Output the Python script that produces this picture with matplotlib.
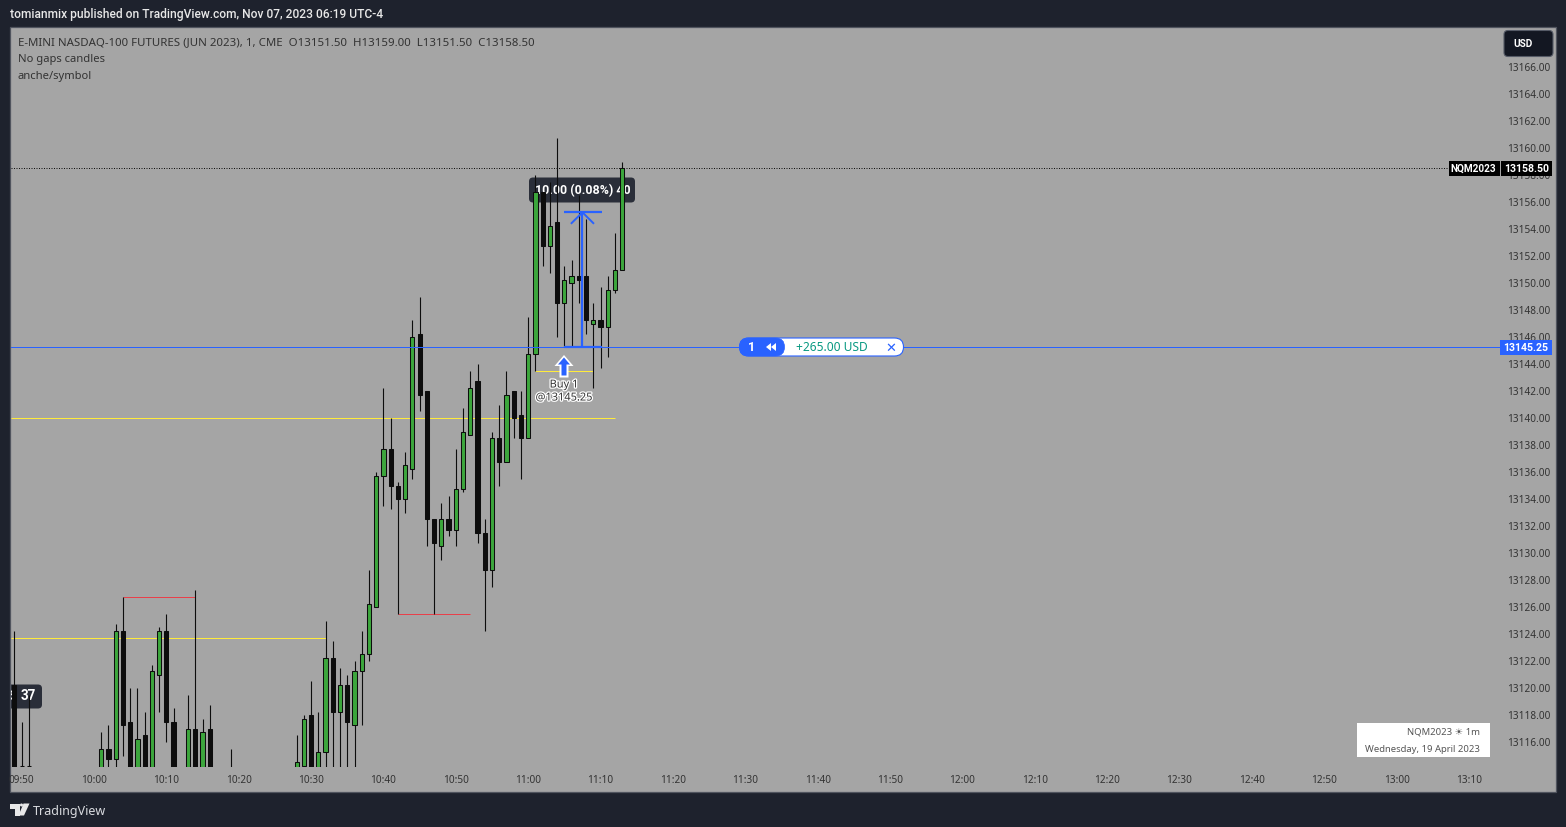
import matplotlib
matplotlib.use("Agg")
import matplotlib.pyplot as plt
import matplotlib.patheffects as pe
from matplotlib.patches import FancyBboxPatch, Polygon, Rectangle
from matplotlib.transforms import Affine2D

W, H = 1566, 828

# minutes counted from 10:00
minutes = [-11, -10, -9, 1, 2, 3, 4, 5, 6, 7, 8, 9, 10, 11, 13, 14, 15, 16, 19,
           28, 29, 30, 31, 32, 33, 34, 35, 36, 37, 38, 39, 40, 41, 42, 43, 44, 45,
           46, 47, 48, 49, 50, 51, 52, 53, 54, 55, 56, 57, 58, 59, 60, 61, 62, 63,
           64, 65, 66, 67, 68, 69, 70, 71, 72, 73]
opens = [13120.25, 13114.25, 13114.25, 13113.0, 13115.5, 13114.75, 13124.25, 13117.5, 13113.0, 13116.5,
         13113.0, 13121.0, 13124.25, 13117.5, 13113.0, 13117.0, 13113.0, 13117.0, 13113.0,
         13113.0, 13114.25, 13118.0, 13113.0, 13115.25, 13122.25, 13118.25, 13120.25, 13117.25, 13121.25, 13122.5,
         13126.0, 13135.75, 13137.75, 13135.0, 13134.0, 13136.25, 13146.25, 13142.0, 13132.5, 13130.5,
         13132.5, 13131.75, 13134.75, 13138.75, 13142.75, 13131.5, 13128.75, 13138.5, 13136.75, 13142.0,
         13140.25, 13138.5, 13144.75, 13156.75, 13152.75, 13154.5, 13148.5, 13150.0, 13150.5, 13150.5,
         13147.0, 13147.25, 13146.75, 13149.5, 13151.0]
highs = [13124.25, 13117.5, 13119.5, 13116.75, 13117.25, 13124.75, 13126.75, 13120.0, 13120.0, 13118.25,
         13121.75, 13124.5, 13125.5, 13118.5, 13119.5, 13127.25, 13117.75, 13118.75, 13115.5,
         13116.5, 13118.0, 13120.5, 13118.25, 13125.0, 13123.5, 13121.5, 13121.0, 13122.0, 13124.25, 13128.75,
         13136.0, 13142.25, 13140.0, 13135.25, 13137.5, 13147.25, 13149.0, 13142.0, 13132.5, 13133.75,
         13134.25, 13137.75, 13140.75, 13143.5, 13144.0, 13132.5, 13139.0, 13141.0, 13143.5, 13142.0,
         13142.0, 13147.5, 13158.0, 13156.75, 13157.5, 13160.75, 13151.25, 13151.75, 13156.5, 13154.75,
         13148.5, 13149.75, 13150.5, 13153.75, 13159.0]
lows = [13108.0, 13112.0, 13112.0, 13112.0, 13112.0, 13112.0, 13115.0, 13112.0, 13112.0, 13112.0,
        13112.0, 13118.25, 13116.0, 13112.0, 13112.0, 13112.0, 13112.0, 13112.0, 13112.0,
        13112.0, 13114.25, 13112.0, 13112.0, 13112.0, 13112.0, 13112.0, 13112.0, 13112.0, 13117.25, 13122.0,
        13126.0, 13133.5, 13133.25, 13125.5, 13133.0, 13135.5, 13140.5, 13130.5, 13125.5, 13129.5,
        13131.25, 13130.5, 13134.5, 13138.75, 13130.75, 13124.25, 13127.5, 13135.0, 13136.75, 13138.5,
        13135.5, 13138.5, 13143.5, 13151.25, 13150.75, 13146.0, 13145.25, 13145.25, 13148.5, 13146.25,
        13142.25, 13143.75, 13144.5, 13149.25, 13151.0]
closes = [13110.0, 13114.25, 13114.25, 13115.5, 13114.75, 13124.25, 13117.25, 13112.0, 13116.25, 13112.0,
          13121.25, 13124.25, 13117.5, 13112.0, 13117.0, 13112.0, 13116.75, 13112.0, 13113.0,
          13114.5, 13117.75, 13112.0, 13115.25, 13122.25, 13118.25, 13120.25, 13117.5, 13121.25, 13122.5, 13126.25,
          13135.75, 13137.75, 13135.0, 13134.0, 13136.5, 13146.0, 13141.75, 13132.5, 13130.75, 13132.5,
          13131.75, 13134.75, 13139.0, 13142.25, 13131.5, 13128.75, 13138.5, 13136.75, 13141.75, 13140.0,
          13138.5, 13144.75, 13156.75, 13152.75, 13154.25, 13148.5, 13150.25, 13150.5, 13150.25, 13147.25,
          13147.25, 13146.75, 13149.5, 13151.0, 13158.5]

price_ticks = list(range(13116, 13167, 2))
time_ticks = list(range(-10, 191, 10))
time_labels = ["09:50", "10:00", "10:10", "10:20", "10:30", "10:40", "10:50", "11:00", "11:10",
               "11:20", "11:30", "11:40", "11:50", "12:00", "12:10", "12:20", "12:30", "12:40",
               "12:50", "13:00", "13:10"]

last_price = 13158.5
entry_price = 13145.25
target_price = 13155.25
yellow_levels = [(13140.0, -11.5, 72), (13123.75, -11.5, 32), (13143.5, 61, 69)]
red_levels = [(13126.75, 4, 14), (13125.5, 42, 52)]

DARK = "#1e222d"
PANEL = "#a5a5a5"
GREEN = "#3ca63c"
BLUE = "#2962ff"
TEXT = "#333333"
FONT = ["Noto Sans", "DejaVu Sans"]
BOLD = ["Roboto", "DejaVu Sans"]

plt.rcParams["font.family"] = FONT

fig = plt.figure(figsize=(W / 100, H / 100), dpi=100, facecolor=DARK)
px = Affine2D().scale(1, -1).translate(0, H - 0.5)


def fs(pixels):
    return pixels * 0.72


# panel behind everything
fig.add_artist(Rectangle((9.5, 27), 1546, 765.5, transform=px, facecolor=PANEL,
                         edgecolor="#50545e", linewidth=0.9, zorder=-5))

ax = fig.add_axes([11 / W, 1 - 768.2 / H, 1489 / W, 739 / H], facecolor="none")
ax.set_xlim(-11.47, 194.3)
ax.set_ylim(13114.148, 13168.889)
for spine in ax.spines.values():
    spine.set_visible(False)
ax.yaxis.tick_right()
ax.set_yticks(price_ticks)
ax.set_yticklabels([f"{p:.2f}" for p in price_ticks])
ax.set_xticks(time_ticks)
ax.set_xticklabels(time_labels)
ax.tick_params(axis="y", length=0, pad=5.0, labelsize=fs(10), colors=TEXT)
ax.tick_params(axis="x", length=0, pad=5.0, labelsize=fs(10), colors=TEXT)

# tick labels sit a bit higher than the gridless price rows
up = Affine2D().translate(0, 1.5)
for label in ax.get_yticklabels():
    label.set_transform(label.get_transform() + up)

# level lines
for price, start, end in yellow_levels:
    ax.hlines(price, start, end, color="#ffeb3b", linewidth=0.72, zorder=2).set_snap(True)
for price, start, end in red_levels:
    ax.hlines(price, start, end, color="#e8404a", linewidth=0.72, zorder=2).set_snap(True)

# tooltips sit under the candles, clipped by the axes
ax.add_patch(FancyBboxPatch((3, 685), 39, 24, boxstyle="round,pad=0,rounding_size=4", transform=px,
                            facecolor="#2a2e39", edgecolor="none", zorder=1))
ax.text(12, 696.5, "$", transform=px, family=BOLD, color="white", fontsize=fs(12), fontweight="bold",
        ha="center", va="center", zorder=1.5, clip_on=True)
ax.text(28, 696, "37", transform=px, family=BOLD, color="white", fontsize=fs(13.5), fontweight="bold",
        ha="center", va="center", zorder=1.5)
ax.add_patch(FancyBboxPatch((529, 178), 106, 25, boxstyle="round,pad=0,rounding_size=4", transform=px,
                            facecolor="#2a2e39", edgecolor="none", zorder=1))
ax.text(583, 190, "10.00 (0.08%) 40", transform=px, family=BOLD, color="white", fontsize=fs(12.4), fontweight="bold",
        ha="center", va="center", zorder=1.5)

# candles
for m, o, h, l, c in zip(minutes, opens, highs, lows, closes):
    ax.vlines(m, l, h, color="#0d0d0d", linewidth=0.8, zorder=3).set_snap(True)
    ax.bar(m, abs(c - o), bottom=min(o, c), width=0.58, color=GREEN if c >= o else "#0d0d0d",
           edgecolor="#0d0d0d", linewidth=0.75, zorder=4)

# last price and entry lines
ax.axhline(last_price, color="#111111", linewidth=0.72, linestyle=(0, (1, 1.5)), zorder=5)
ax.axhline(entry_price, color=BLUE, linewidth=0.72, zorder=5)

# measure tool
ax.vlines(67.5, entry_price, target_price, color=BLUE, linewidth=1.6, zorder=6).set_snap(True)
ax.hlines([entry_price, target_price], 65, 70.2, color=BLUE, linewidth=1.6, zorder=6).set_snap(True)
ax.plot([66, 67.5, 69], [target_price - 0.8, target_price, target_price - 0.8], color=BLUE,
        linewidth=1.4, zorder=6)

# buy marker
ax.add_patch(Polygon([(564, 355.5), (573.5, 366.5), (568.5, 366.5), (568.5, 378), (559.5, 378), (559.5, 366.5), (554.5, 366.5)],
                     transform=px, facecolor="white", edgecolor="none", zorder=7))
ax.add_patch(Polygon([(564, 358), (570, 365), (566.5, 365), (566.5, 376), (561.5, 376), (561.5, 365), (558, 365)],
                     transform=px, facecolor=BLUE, edgecolor="none", zorder=8))
halo = [pe.withStroke(linewidth=1.8, foreground="white")]
ax.text(564, 385.5, "Buy 1", transform=px, color=TEXT, fontsize=fs(11), ha="center", va="center",
        path_effects=halo, zorder=8)
ax.text(564, 398.5, "@13145.25", transform=px, color=TEXT, fontsize=fs(11), ha="center", va="center",
        path_effects=halo, zorder=8)

# legend top left
fig.text(18, 42, "E-MINI NASDAQ-100 FUTURES (JUN 2023), 1, CME  O13151.50  H13159.00  L13151.50  C13158.50",
         transform=px, color=TEXT, fontsize=fs(11.45), va="center", zorder=9)
fig.text(18, 59.5, "No gaps candles", transform=px, color=TEXT, fontsize=fs(11.2), va="center", zorder=9)
fig.text(18, 76.5, "anche/symbol", transform=px, color=TEXT, fontsize=fs(11.2), va="center", zorder=9)

# header and footer
fig.text(10, 14.5, "tomianmix published on TradingView.com, Nov 07, 2023 06:19 UTC-4", transform=px,
         family=BOLD, color="#e8e8e8", fontsize=fs(12), fontweight="medium", va="center")
fig.text(33, 811, "TradingView", transform=px, color="#d8dade", fontsize=fs(12.5), va="center")
logo = "#e8e8e8"
fig.add_artist(Polygon([(10, 804), (20, 804), (20, 816), (15, 816), (15, 809), (10, 809)], transform=px,
                       facecolor=logo, edgecolor="none"))
fig.add_artist(Polygon([(23.5, 804), (29.5, 804), (24, 816), (18.5, 816)], transform=px,
                       facecolor=logo, edgecolor="none"))
fig.add_artist(FancyBboxPatch((20, 804), 3, 3, boxstyle="round,pad=0,rounding_size=1.4", transform=px,
                              facecolor=logo, edgecolor="none"))

# USD button
fig.add_artist(FancyBboxPatch((1504, 31), 49, 26, boxstyle="round,pad=0,rounding_size=4", transform=px,
                              facecolor="#131722", edgecolor="#555a66", linewidth=0.8, zorder=9))
fig.text(1513, 44, "USD", transform=px, family=BOLD, color="white", fontsize=fs(10), fontweight="bold", va="center", zorder=10)

# price tags on the right
fig.add_artist(Rectangle((1449, 161), 51, 15, transform=px, facecolor="black", edgecolor="none", zorder=9))
fig.text(1473.5, 168.5, "NQM2023", transform=px, family=BOLD, color="white", fontsize=fs(10), fontweight="bold",
         ha="center", va="center", zorder=10)
fig.add_artist(Rectangle((1501, 161), 51, 15, transform=px, facecolor="black", edgecolor="none", zorder=9))
fig.text(1527, 168.5, f"{last_price:.2f}", transform=px, family=BOLD, color="white", fontsize=fs(10.5), fontweight="bold",
         ha="center", va="center", zorder=10)
fig.add_artist(Rectangle((1500, 340), 52, 15, transform=px, facecolor=BLUE, edgecolor="none", zorder=9))
fig.text(1526, 347.5, f"{entry_price:.2f}", transform=px, family=BOLD, color="white", fontsize=fs(10.5), fontweight="bold",
         ha="center", va="center", zorder=10)

# position pill
fig.add_artist(FancyBboxPatch((739.5, 338.5), 164, 18, boxstyle="round,pad=0,rounding_size=9", transform=px,
                              facecolor="white", edgecolor=BLUE, linewidth=0.8, zorder=9))
fig.add_artist(FancyBboxPatch((739.5, 338.5), 45, 18, boxstyle="round,pad=0,rounding_size=9", transform=px,
                              facecolor=BLUE, edgecolor=BLUE, linewidth=0.5, zorder=10))
fig.text(752, 347.5, "1", transform=px, family=BOLD, color="white", fontsize=fs(12.5), fontweight="bold",
         ha="center", va="center", zorder=11)
fig.add_artist(Polygon([(766, 347.5), (771, 343.5), (771, 351.5)], transform=px, facecolor="white",
                       edgecolor="none", zorder=11))
fig.add_artist(Polygon([(771, 347.5), (776, 343.5), (776, 351.5)], transform=px, facecolor="white",
                       edgecolor="none", zorder=11))
fig.text(832, 347.5, "+265.00 USD", transform=px, color="#089981", fontsize=fs(12), ha="center",
         va="center", zorder=11)
fig.add_artist(Rectangle((878.5, 339), 0.8, 17, transform=px, facecolor="#dfe3ec", edgecolor="none", zorder=11))
fig.text(890.5, 347.5, "\u2715", transform=px, family=["DejaVu Sans"], color=BLUE, fontsize=fs(13), ha="center", va="center", zorder=11)

# watermark box
fig.add_artist(Rectangle((1357, 723), 133, 34, transform=px, facecolor="white", edgecolor="none", zorder=9))
fig.text(1480, 732, "NQM2023 \u2600 1m", transform=px, color="#555555", fontsize=fs(9.5), ha="right",
         va="center", zorder=10)
fig.text(1480, 749, "Wednesday, 19 April 2023", transform=px, color="#555555", fontsize=fs(9.5), ha="right",
         va="center", zorder=10)

fig.savefig("out.png", dpi=100, facecolor=DARK)
